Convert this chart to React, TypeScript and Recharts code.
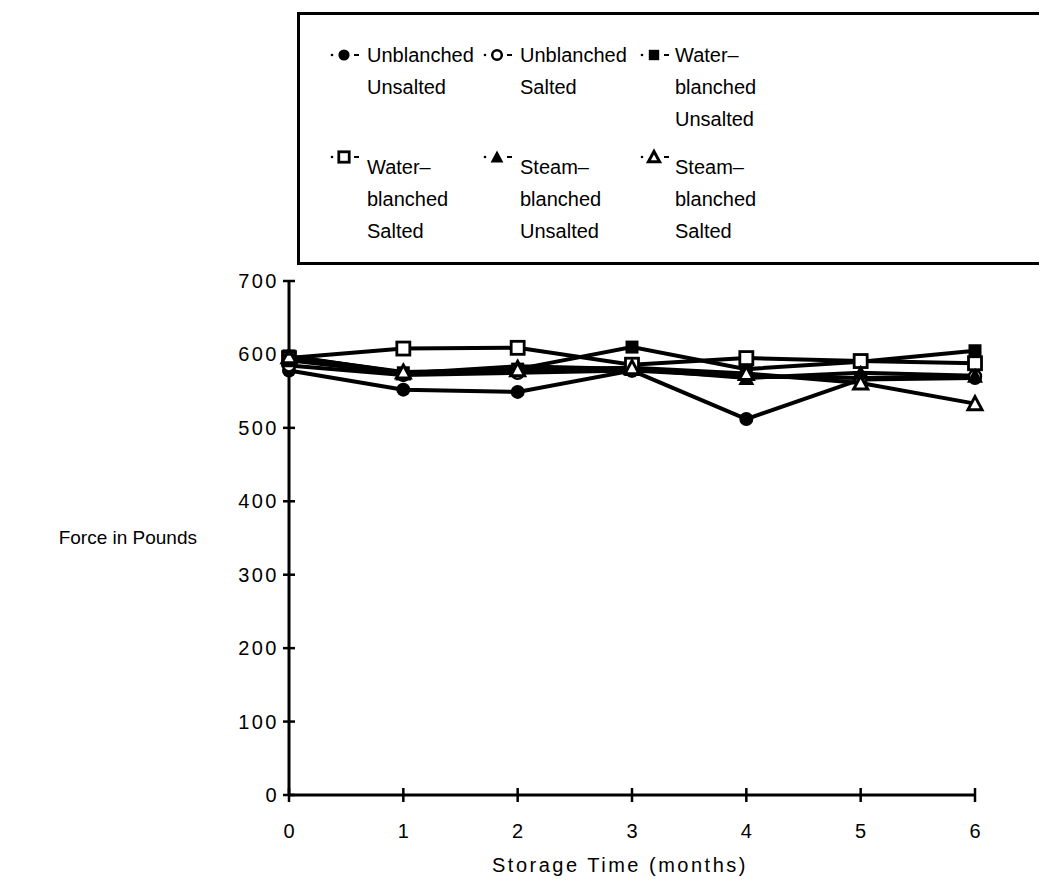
import React from 'react';
import { LineChart, Line, XAxis, YAxis } from 'recharts';

const months = [0, 1, 2, 3, 4, 5, 6];
const yTicks = [0, 100, 200, 300, 400, 500, 600, 700];

// force readings per month (lb)
const unblanchedUnsalted = [578, 552, 549, 578, 512, 566, 568];
const unblanchedSalted = [585, 572, 575, 578, 570, 568, 570];
const waterUnsalted = [598, 575, 580, 610, 580, 590, 605];
const waterSalted = [595, 608, 609, 586, 595, 591, 588];
const steamUnsalted = [592, 574, 584, 580, 568, 575, 571];
const steamSalted = [597, 576, 579, 582, 574, 561, 533];

const seriesNames = [
  'Unblanched Unsalted',
  'Unblanched Salted',
  'Water-blanched Unsalted',
  'Water-blanched Salted',
  'Steam-blanched Unsalted',
  'Steam-blanched Salted',
];

const data = months.map((m, i) => ({
  month: m,
  uu: unblanchedUnsalted[i],
  us: unblanchedSalted[i],
  wu: waterUnsalted[i],
  ws: waterSalted[i],
  su: steamUnsalted[i],
  ss: steamSalted[i],
}));

const FONT = '"Liberation Sans", Arial, Helvetica, sans-serif';

type Shape = 'circle' | 'openCircle' | 'square' | 'openSquare' | 'triangle' | 'openTriangle';

const Marker = ({ shape, cx, cy, scale = 1 }: { shape: Shape; cx: number; cy: number; scale?: number }) => {
  const s = scale;
  switch (shape) {
    case 'circle':
      return <circle cx={cx} cy={cy} r={7 * s} fill="#000" />;
    case 'openCircle':
      return <circle cx={cx} cy={cy} r={6 * s} fill="#fff" stroke="#000" strokeWidth={2.5} />;
    case 'square':
      return <rect x={cx - 6.5 * s} y={cy - 6.5 * s} width={13 * s} height={13 * s} fill="#000" />;
    case 'openSquare':
      return <rect x={cx - 6.5 * s} y={cy - 6.5 * s} width={13 * s} height={13 * s} fill="#fff" stroke="#000" strokeWidth={2.8} />;
    case 'triangle':
      return <polygon points={`${cx},${cy - 8 * s} ${cx + 8 * s},${cy + 7 * s} ${cx - 8 * s},${cy + 7 * s}`} fill="#000" />;
    default:
      return (
        <polygon
          points={`${cx},${cy - 7 * s} ${cx + 7 * s},${cy + 6 * s} ${cx - 7 * s},${cy + 6 * s}`}
          fill="#fff"
          stroke="#000"
          strokeWidth={3}
        />
      );
  }
};

const makeDot = (shape: Shape) => (props: any) => {
  const { cx, cy, index } = props;
  return <Marker key={`${shape}-${index}`} shape={shape} cx={cx} cy={cy} />;
};

const YTick = (props: any) => {
  const { x, y, payload } = props;
  return (
    <g>
      <line x1={x - 6} x2={x + 6} y1={y} y2={y} stroke="#000" strokeWidth={2.5} />
      <text x={x - 10} y={y + 7} textAnchor="end" fontFamily={FONT} fontSize={20} letterSpacing={2.5} fill="#000">
        {payload.value}
      </text>
    </g>
  );
};

const XTick = (props: any) => {
  const { x, y, payload } = props;
  return (
    <g>
      <line x1={x} x2={x} y1={y - 7} y2={y + 7} stroke="#000" strokeWidth={2.5} />
      <text x={x} y={y + 43} textAnchor="middle" fontFamily={FONT} fontSize={20} fill="#000">
        {payload.value}
      </text>
    </g>
  );
};

const legendItems: { shape: Shape; lines: string[] }[] = [
  { shape: 'circle', lines: ['Unblanched', 'Unsalted'] },
  { shape: 'openCircle', lines: ['Unblanched', 'Salted'] },
  { shape: 'square', lines: ['Water–', 'blanched', 'Unsalted'] },
  { shape: 'openSquare', lines: ['Water–', 'blanched', 'Salted'] },
  { shape: 'triangle', lines: ['Steam–', 'blanched', 'Unsalted'] },
  { shape: 'openTriangle', lines: ['Steam–', 'blanched', 'Salted'] },
];

// offsets inside the legend frame (frame's outer corner at page 297,12)
const colSymbolX = [33, 186, 343];
const colTextX = [70, 223, 378];
const rowTextTop = [27, 139];
const rowSymbolY = [43, 145];

const LegendBox = () => (
  <div
    style={{
      position: 'absolute',
      left: 289,
      top: 4,
      width: 742,
      height: 253,
      boxSizing: 'border-box',
      borderTop: '3px solid #000',
      borderLeft: '3px solid #000',
      borderBottom: '3px solid #000',
      fontFamily: FONT,
      color: '#000',
    }}
  >
    {legendItems.map((item, i) => {
      const col = i % 3;
      const row = Math.floor(i / 3);
      return (
        <React.Fragment key={seriesNames[i]}>
          <svg
            width={34}
            height={20}
            style={{ position: 'absolute', left: colSymbolX[col] - 3, top: rowSymbolY[row] - 10 - 3 }}
          >
            <circle cx={2} cy={10} r={1.3} fill="#000" />
            <Marker shape={item.shape} cx={14} cy={10} scale={0.8} />
            <line x1={24} x2={29} y1={10} y2={10} stroke="#000" strokeWidth={2} />
          </svg>
          <div
            style={{
              position: 'absolute',
              left: colTextX[col] - 3,
              top: rowTextTop[row] - 3,
              fontSize: 20,
              lineHeight: '32px',
              whiteSpace: 'nowrap',
            }}
          >
            {item.lines.map((l) => (
              <div key={l}>{l}</div>
            ))}
          </div>
        </React.Fragment>
      );
    })}
  </div>
);

const keys: { key: string; shape: Shape }[] = [
  { key: 'uu', shape: 'circle' },
  { key: 'us', shape: 'openCircle' },
  { key: 'wu', shape: 'square' },
  { key: 'ws', shape: 'openSquare' },
  { key: 'su', shape: 'triangle' },
  { key: 'ss', shape: 'openTriangle' },
];

export default function App() {
  return (
    <div style={{ position: 'relative', width: 1031, height: 872, background: '#fff' }}>
      <LineChart width={1031} height={872} data={data} margin={{ top: 273, right: 64, bottom: 25, left: 221 }}>
        <XAxis
          dataKey="month"
          type="number"
          domain={[0, 6]}
          ticks={months}
          tickSize={0}
          tickMargin={0}
          tickLine={false}
          height={60}
          axisLine={{ stroke: '#000', strokeWidth: 3 }}
          tick={<XTick />}
          label={{
            content: (p: any) => (
              <text
                x={p.viewBox.x + p.viewBox.width / 2 - 12}
                y={p.viewBox.y + 77}
                textAnchor="middle"
                fontFamily={FONT}
                fontSize={20}
                letterSpacing={2.5}
                fill="#000"
              >
                Storage Time (months)
              </text>
            ),
          }}
        />
        <YAxis
          type="number"
          domain={[0, 700]}
          ticks={yTicks}
          tickSize={0}
          tickMargin={0}
          tickLine={false}
          width={60}
          interval={0}
          axisLine={{ stroke: '#000', strokeWidth: 3 }}
          tick={<YTick />}
          label={{
            content: (p: any) => (
              <text
                x={p.viewBox.x + p.viewBox.width - 92}
                y={p.viewBox.y + 263}
                textAnchor="end"
                fontFamily={FONT}
                fontSize={19}
                fill="#000"
              >
                Force in Pounds
              </text>
            ),
          }}
        />
        {keys.map((k, i) => (
          <Line
            key={k.key}
            name={seriesNames[i]}
            dataKey={k.key}
            stroke="#000"
            strokeWidth={4}
            dot={makeDot(k.shape)}
            activeDot={false}
            isAnimationActive={false}
          />
        ))}
      </LineChart>
      <LegendBox />
    </div>
  );
}
